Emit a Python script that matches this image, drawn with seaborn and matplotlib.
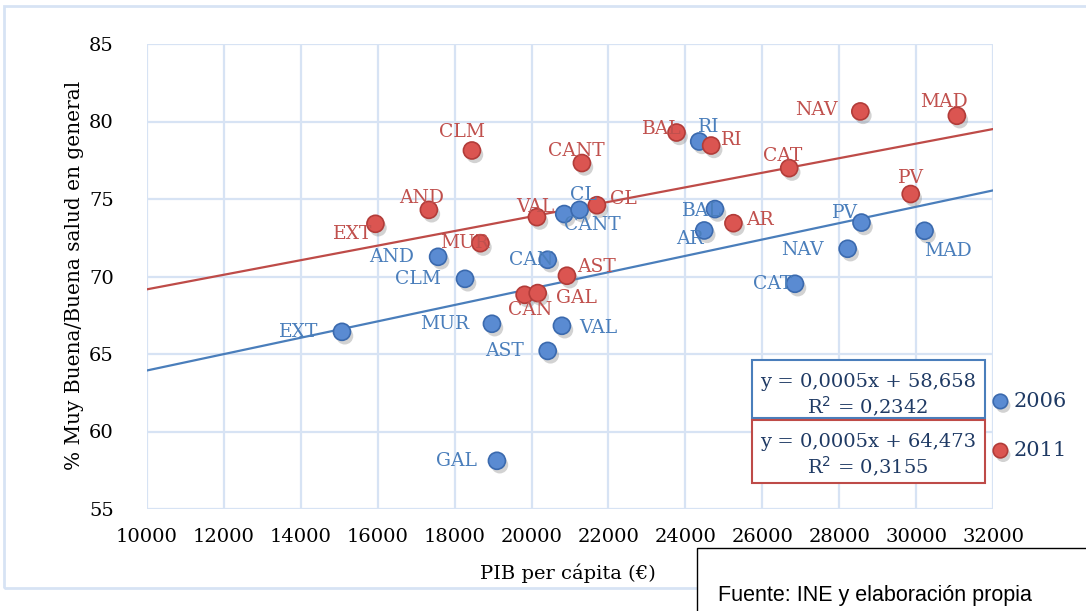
import numpy as np
import pandas as pd
import matplotlib
matplotlib.use("Agg")
import matplotlib.pyplot as plt
import matplotlib.patheffects as pe
from matplotlib.patches import Rectangle
import seaborn as sns

# --- data -------------------------------------------------------------------
regions_2006 = ["EXT", "AND", "CLM", "MUR", "GAL", "CAN", "AST", "VAL", "CANT",
                "CL", "BAL", "AR", "RI", "CAT", "NAV", "PV", "MAD"]
pib_2006 = [15070, 17570, 18270, 18970, 19100, 20420, 20420, 20790, 20850,
            21250, 24770, 24490, 24360, 26850, 28220, 28580, 30220]
salud_2006 = [66.43, 71.27, 69.85, 66.95, 58.11, 71.08, 65.20, 66.82, 74.03,
              74.30, 74.35, 72.97, 78.71, 69.53, 71.79, 73.48, 72.95]

regions_2011 = ["EXT", "AND", "CLM", "MUR", "VAL", "CANT", "CL", "AST", "CAN",
                "GAL", "BAL", "RI", "AR", "CAT", "NAV", "MAD", "PV"]
pib_2011 = [15940, 17330, 18450, 18670, 20140, 21310, 21700, 20920, 19820,
            20160, 23770, 24670, 25250, 26700, 28550, 31060, 29860]
salud_2011 = [73.40, 74.30, 78.13, 72.15, 73.83, 77.32, 74.60, 70.05, 68.82,
              68.93, 79.29, 78.45, 73.44, 76.99, 80.65, 80.37, 75.32]

years = ["2006", "2011"]
trend_slope = [0.000528, 0.000470]
trend_intercept = [58.658, 64.473]
trend_r2 = [0.2342, 0.3155]

x_ticks = list(range(10000, 32001, 2000))
y_ticks = list(range(55, 86, 5))

# --- label placement (pixel offsets from the marker, alignment) -------------
label_pos_2006 = {
    "EXT": (-24, 0, "right"), "AND": (-24, 0, "right"), "CLM": (-24, 0, "right"),
    "MUR": (-23, 0, "right"), "GAL": (-20, 0, "right"), "CAN": (6, 0, "right"),
    "AST": (-24, 0, "right"), "VAL": (17, -2, "left"), "CANT": (0, -11, "left"),
    "CL": (4, 15, "center"), "BAL": (7, -2, "right"), "AR": (0, -9, "right"),
    "RI": (10, 14, "center"), "CAT": (-3, 0, "right"), "NAV": (-24, -1, "right"),
    "PV": (-4, 10, "right"), "MAD": (0, -20, "left"),
}
label_pos_2011 = {
    "EXT": (-3, -10, "right"), "AND": (-7, 12, "center"), "CLM": (-10, 18, "center"),
    "MUR": (9, 0, "right"), "VAL": (-2, 10, "center"), "CANT": (-6, 12, "center"),
    "CL": (13, 6, "left"), "AST": (10, 9, "left"), "CAN": (6, -15, "center"),
    "GAL": (18, -5, "left"), "BAL": (5, 4, "right"), "RI": (10, 6, "left"),
    "AR": (13, 3, "left"), "CAT": (-7, 12, "center"), "NAV": (-23, 1, "right"),
    "MAD": (-13, 14, "center"), "PV": (0, 16, "center"),
}

# --- style ------------------------------------------------------------------
sns.set_theme(style="white")
plt.rcParams["font.family"] = ["DejaVu Serif"]

W, H = 1086, 611
fig = plt.figure(figsize=(W / 100, H / 100), dpi=100)
fig.patch.set_facecolor("white")


def fx(px):
    return px / W


def fy(py):
    return 1 - py / H


ax = fig.add_axes([fx(147), fy(509), fx(993) - fx(147), fy(44) - fy(509)])

blue_fill, blue_edge, blue_line, blue_text = "#5A8BD2", "#3B6AAE", "#4A7EBB", "#4A7EBB"
red_fill, red_edge, red_line, red_text = "#DB5551", "#B23C39", "#BE4B48", "#C0504D"
navy = "#1F3A64"
grid_col = "#D7E3F4"

df = pd.DataFrame({
    "pib": pib_2006 + pib_2011,
    "salud": salud_2006 + salud_2011,
    "year": [years[0]] * len(pib_2006) + [years[1]] * len(pib_2011),
    "region": regions_2006 + regions_2011,
})

shadow = [pe.SimplePatchShadow(offset=(2, -3), shadow_rgbFace="#7f7f7f", alpha=0.35),
          pe.Normal()]

for yr, fill, edge in [(years[0], blue_fill, blue_edge), (years[1], red_fill, red_edge)]:
    sub = df[df["year"] == yr]
    sns.scatterplot(data=sub, x="pib", y="salud", ax=ax, color=fill,
                    edgecolor=edge, linewidth=1.2, s=150, zorder=4,
                    label=yr)
    ax.collections[-1].set_path_effects(shadow)

# trend lines
xs = np.array([x_ticks[0], x_ticks[-1]], dtype=float)
for slope, icpt, col in zip(trend_slope, trend_intercept, [blue_line, red_line]):
    sns.lineplot(x=xs, y=slope * xs + icpt, ax=ax, color=col, lw=1.6, zorder=3)

# point labels
for regs, xv, yv, pos, col in [
    (regions_2006, pib_2006, salud_2006, label_pos_2006, blue_text),
    (regions_2011, pib_2011, salud_2011, label_pos_2011, red_text),
]:
    for r, x, y in zip(regs, xv, yv):
        dx, dy, ha = pos[r]
        ax.annotate(r, (x, y), xytext=(dx, dy), textcoords="offset pixels",
                    ha=ha, va="center", fontsize=13.5, color=col, zorder=5)

ax.set_xlim(x_ticks[0], x_ticks[-1])
ax.set_ylim(y_ticks[0], y_ticks[-1])
ax.set_xticks(x_ticks)
ax.set_yticks(y_ticks)
ax.grid(True, color=grid_col, lw=1.6, zorder=0)
ax.set_axisbelow(True)
for s in ax.spines.values():
    s.set_visible(False)
ax.tick_params(axis="both", length=0, labelsize=14, colors="black")
ax.tick_params(axis="y", pad=24)
ax.tick_params(axis="x", pad=14)

ax.set_xlabel("PIB per cápita (€)", fontsize=14, color="black")
ax.set_ylabel("% Muy Buena/Buena salud en general", fontsize=14.5, color="black")
ax.xaxis.set_label_coords(0.497, -0.118)
ax.yaxis.set_label_coords(-0.074, 0.503)

# legend at the right
leg = ax.legend(loc="center left", frameon=False, fontsize=15, labelspacing=1.45,
                handlelength=1.0, handletextpad=0.15, markerscale=0.85,
                borderpad=0, borderaxespad=0)
leg.set_bbox_to_anchor((fx(990), fy(426)), transform=fig.transFigure)
for t in leg.get_texts():
    t.set_color(navy)

# trend-line equation boxes
def eq_text(k):
    slope = f"{trend_slope[k]:.4f}".replace(".", ",")
    icpt = f"{trend_intercept[k]:.3f}".replace(".", ",")
    r2 = f"{trend_r2[k]:.4f}".replace(".", ",")
    return f"y = {slope}x + {icpt}", f"R$^2$ = {r2}"


for k, (top, bot, col) in enumerate([(360, 418, blue_line), (420, 483, red_line)]):
    fig.patches.append(Rectangle((fx(752), fy(bot)), fx(985) - fx(752), fy(top) - fy(bot),
                                 transform=fig.transFigure, fill=True, facecolor="white",
                                 edgecolor=col, lw=1.5, zorder=6))
    l1, l2 = eq_text(k)
    fig.text(fx(868), fy(top + 22), l1, ha="center", va="center",
             fontsize=14, color=navy, zorder=7)
    fig.text(fx(868), fy(top + 47), l2, ha="center", va="center",
             fontsize=14, color=navy, zorder=7)

# outer chart border
fig.patches.append(Rectangle((fx(4), fy(588)), fx(1100) - fx(4), fy(6) - fy(588),
                             transform=fig.transFigure, fill=False,
                             edgecolor=grid_col, lw=2, zorder=1))

# source box
fig.patches.append(Rectangle((fx(697), fy(620)), fx(1100) - fx(697), fy(548) - fy(620),
                             transform=fig.transFigure, facecolor="white",
                             edgecolor="black", lw=1, zorder=8))
fig.text(fx(718), fy(596), "Fuente: INE y elaboración propia", ha="left", va="center",
         fontsize=15.5, family=["Liberation Sans", "DejaVu Sans"], color="black",
         zorder=9)

fig.savefig("out.png", dpi=100, facecolor="white")
